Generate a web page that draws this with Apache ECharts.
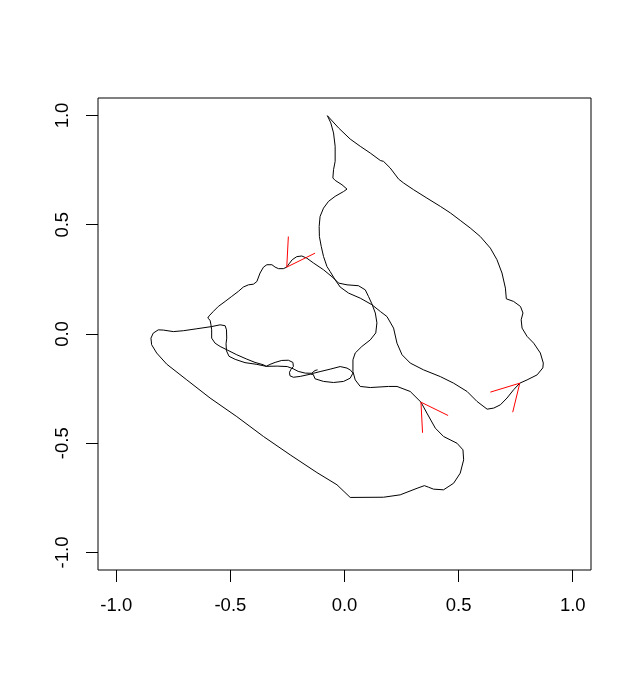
<!DOCTYPE html>
<html>
<head>
<meta charset="utf-8">
<script src="https://cdn.jsdelivr.net/npm/echarts@6/dist/echarts.min.js"></script>
<style>
html, body { margin: 0; padding: 0; background: #fff; }
#main { width: 641px; height: 693px; }
</style>
</head>
<body>
<div id="main"></div>
<script>
// tick marks shared by both axes
const tickValues = [-1, -0.5, 0, 0.5, 1]
const tickLabels = ['-1.0', '-0.5', '0.0', '0.5', '1.0']

// right lobe, closed: top cusp -> right side -> bottom -> back up the left edge
const rightLobe = [
  [-0.075, 0.999], [-0.026, 0.943], [0.025, 0.892], [0.069, 0.859], [0.113, 0.828],
  [0.157, 0.794], [0.171, 0.790], [0.200, 0.760], [0.237, 0.709], [0.259, 0.691],
  [0.303, 0.660], [0.361, 0.622], [0.420, 0.584], [0.464, 0.554], [0.507, 0.520],
  [0.551, 0.485], [0.595, 0.446], [0.639, 0.393], [0.668, 0.340], [0.690, 0.279],
  [0.705, 0.210], [0.709, 0.161], [0.741, 0.149], [0.771, 0.126], [0.782, 0.096],
  [0.774, 0.065], [0.778, 0.027], [0.800, -0.011], [0.829, -0.042], [0.858, -0.087],
  [0.871, -0.133], [0.869, -0.155], [0.844, -0.187], [0.800, -0.210], [0.768, -0.225],
  [0.741, -0.255], [0.712, -0.293], [0.683, -0.324], [0.654, -0.339], [0.625, -0.344],
  [0.581, -0.309], [0.537, -0.263], [0.478, -0.225], [0.420, -0.195], [0.346, -0.164],
  [0.288, -0.133], [0.252, -0.095], [0.230, -0.042], [0.215, 0.027], [0.186, 0.080],
  [0.157, 0.103], [0.120, 0.134], [0.069, 0.164], [0.018, 0.187], [-0.019, 0.215],
  [-0.041, 0.248], [-0.063, 0.286], [-0.077, 0.309], [-0.092, 0.355], [-0.102, 0.401],
  [-0.110, 0.446], [-0.111, 0.492], [-0.107, 0.538], [-0.092, 0.576], [-0.070, 0.607],
  [-0.041, 0.630], [-0.004, 0.652], [0.011, 0.663], [-0.011, 0.683], [-0.041, 0.703],
  [-0.051, 0.714], [-0.048, 0.752], [-0.041, 0.790], [-0.041, 0.859], [-0.048, 0.920],
  [-0.060, 0.966], [-0.075, 0.999]
]

// the rest of the curve, closed: middle loop, bottom squiggle, left tip, diagonal, lower lobe
const mainLoop = [
  [-0.253, 0.306], [-0.268, 0.299], [-0.289, 0.299], [-0.304, 0.306], [-0.318, 0.317],
  [-0.340, 0.317], [-0.355, 0.306], [-0.370, 0.279], [-0.384, 0.240], [-0.399, 0.228],
  [-0.421, 0.225], [-0.443, 0.215], [-0.465, 0.195], [-0.494, 0.172], [-0.523, 0.149],
  [-0.553, 0.126], [-0.575, 0.103], [-0.593, 0.083], [-0.599, 0.073], [-0.589, 0.063],
  [-0.585, 0.042], [-0.582, 0.019], [-0.582, -0.019], [-0.567, -0.042], [-0.545, -0.057],
  [-0.516, -0.072], [-0.472, -0.095], [-0.428, -0.115], [-0.392, -0.130], [-0.355, -0.141],
  [-0.343, -0.148], [-0.326, -0.139], [-0.304, -0.130], [-0.275, -0.121], [-0.246, -0.120],
  [-0.226, -0.130], [-0.224, -0.149], [-0.234, -0.161], [-0.241, -0.175], [-0.239, -0.191],
  [-0.224, -0.198], [-0.194, -0.194], [-0.150, -0.184], [-0.137, -0.185], [-0.129, -0.205],
  [-0.092, -0.217], [-0.048, -0.222], [-0.004, -0.217], [0.025, -0.202], [0.037, -0.179],
  [0.027, -0.166], [0.011, -0.156], [-0.019, -0.149], [-0.063, -0.161], [-0.107, -0.172],
  [-0.137, -0.180], [-0.172, -0.179], [-0.203, -0.171], [-0.225, -0.159], [-0.251, -0.149],
  [-0.295, -0.147], [-0.343, -0.148], [-0.384, -0.139], [-0.436, -0.131], [-0.479, -0.116],
  [-0.506, -0.102], [-0.517, -0.077], [-0.519, -0.045], [-0.516, -0.019], [-0.517, 0.019],
  [-0.523, 0.038], [-0.545, 0.042], [-0.582, 0.034], [-0.647, 0.024], [-0.706, 0.015],
  [-0.750, 0.011], [-0.794, 0.018], [-0.816, 0.019], [-0.838, 0.004], [-0.848, -0.019],
  [-0.845, -0.049], [-0.823, -0.087], [-0.779, -0.138], [-0.691, -0.210], [-0.589, -0.293],
  [-0.472, -0.378], [-0.355, -0.469], [-0.238, -0.553], [-0.121, -0.634], [-0.033, -0.690],
  [0.025, -0.748], [0.171, -0.747], [0.244, -0.736], [0.318, -0.706], [0.350, -0.694],
  [0.368, -0.701], [0.390, -0.710], [0.434, -0.713], [0.478, -0.683], [0.507, -0.637],
  [0.522, -0.576], [0.519, -0.530], [0.493, -0.500], [0.434, -0.469], [0.398, -0.431],
  [0.361, -0.362], [0.335, -0.312], [0.288, -0.263], [0.230, -0.240], [0.193, -0.240],
  [0.113, -0.245], [0.069, -0.240], [0.047, -0.210], [0.037, -0.172], [0.037, -0.118],
  [0.047, -0.087], [0.076, -0.057], [0.113, -0.027], [0.137, 0.005], [0.142, 0.051],
  [0.135, 0.096], [0.120, 0.138], [0.105, 0.172], [0.091, 0.202], [0.061, 0.221],
  [0.011, 0.225], [-0.026, 0.233], [-0.048, 0.256], [-0.092, 0.294], [-0.136, 0.325],
  [-0.165, 0.347], [-0.187, 0.357], [-0.209, 0.354], [-0.229, 0.340], [-0.243, 0.321],
  [-0.253, 0.306]
]

// little tail inside the bottom squiggle
const tail = [[-0.142, -0.178], [-0.129, -0.167], [-0.118, -0.164]]

// red arrow heads: arm end, tip, arm end
const arrowHeads = [
  [[-0.246, 0.446], [-0.253, 0.306], [-0.129, 0.370]],
  [[0.639, -0.266], [0.768, -0.225], [0.737, -0.358]],
  [[0.342, -0.452], [0.335, -0.312], [0.454, -0.373]]
]

const chartInstance = echarts.init(document.getElementById('main'))

const axisCommon = {
  type: 'value',
  min: -1.08,
  max: 1.08,
  splitLine: { show: false },
  axisLine: { show: false, onZero: false },
  axisTick: {
    show: true,
    customValues: tickValues,
    length: 12,
    lineStyle: { color: '#000', width: 1 }
  }
}

const labelCommon = {
  customValues: tickValues,
  formatter: v => tickLabels[tickValues.indexOf(v)],
  margin: 26,
  color: '#000',
  fontSize: 18.5,
  fontFamily: 'Liberation Sans'
}

const lineSeries = (data, color) => ({
  type: 'line',
  data: data,
  showSymbol: false,
  symbol: 'none',
  silent: true,
  clip: false,
  lineStyle: { color: color, width: 1 }
})

const series = [
  lineSeries(rightLobe, '#000'),
  lineSeries(mainLoop, '#000'),
  lineSeries(tail, '#000')
]
arrowHeads.forEach(item => {
  series.push(lineSeries(item, '#ff0000'))
})

chartInstance.setOption({
  animation: false,
  backgroundColor: '#fff',
  grid: {
    left: 98,
    right: 50,
    top: 98,
    bottom: 123,
    show: true,
    borderColor: '#000',
    borderWidth: 1,
    backgroundColor: 'transparent'
  },
  xAxis: Object.assign({}, axisCommon, {
    axisLabel: Object.assign({}, labelCommon)
  }),
  yAxis: Object.assign({}, axisCommon, {
    axisLabel: Object.assign({}, labelCommon, { rotate: 90 })
  }),
  series: series
})
</script>
</body>
</html>
